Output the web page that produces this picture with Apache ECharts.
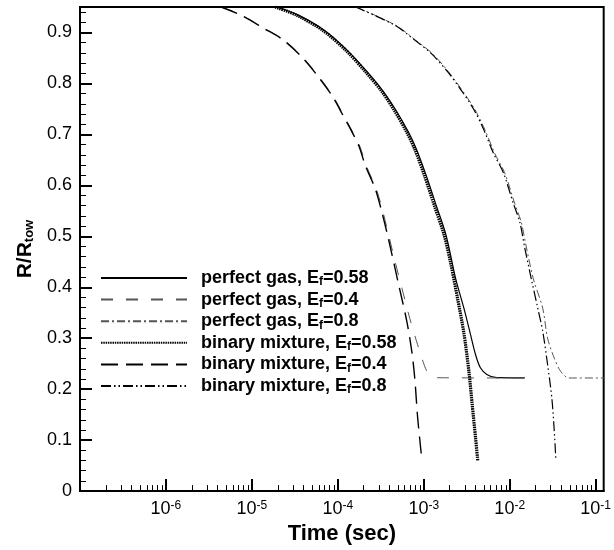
<!DOCTYPE html>
<html>
<head>
<meta charset="utf-8">
<title>R/Rtow vs time</title>
<script src="https://cdn.jsdelivr.net/npm/echarts@6/dist/echarts.min.js"></script>
<style>
  html, body { margin: 0; padding: 0; background: #fff; }
  #chart { width: 614px; height: 550px; }
</style>
</head>
<body>
<div id="chart"></div>
<script>
// [time (sec), R/Rtow]
var pgas058 = [[1.95e-5, 0.95], [3.47e-5, 0.934], [7.0e-5, 0.904], [1.29e-4, 0.865], [2.19e-4, 0.823],
  [3.39e-4, 0.784], [4.84e-4, 0.745], [6.61e-4, 0.705], [8.22e-4, 0.671], [1.07e-3, 0.619],
  [1.40e-3, 0.560], [1.82e-3, 0.502], [2.35e-3, 0.417], [2.93e-3, 0.359], [3.50e-3, 0.307],
  [4.0e-3, 0.268], [4.56e-3, 0.242], [5.42e-3, 0.229], [7.06e-3, 0.2225], [0.015, 0.222]];
var pgas04 = [[4.45e-6, 0.95], [7.55e-6, 0.934], [1.40e-5, 0.908], [2.37e-5, 0.885], [4.02e-5, 0.849],
  [6.23e-5, 0.810], [8.87e-5, 0.774], [1.156e-4, 0.739], [1.51e-4, 0.703], [1.80e-4, 0.677],
  [2.15e-4, 0.638], [2.80e-4, 0.593], [3.36e-4, 0.547], [4.0e-4, 0.495], [4.64e-4, 0.450],
  [5.57e-4, 0.398], [6.87e-4, 0.339], [8.49e-4, 0.287], [1.02e-3, 0.246], [1.16e-3, 0.228],
  [1.44e-3, 0.2225], [0.015, 0.222]];
var pgas08 = [[1.64e-4, 0.95], [4.73e-4, 0.914], [8.03e-4, 0.885], [1.25e-3, 0.859], [1.94e-3, 0.823],
  [2.76e-3, 0.788], [3.93e-3, 0.749], [5.12e-3, 0.710], [6.68e-3, 0.663], [8.72e-3, 0.625],
  [1.14e-2, 0.565], [1.36e-2, 0.528], [1.56e-2, 0.479], [1.88e-2, 0.417], [2.42e-2, 0.359],
  [2.76e-2, 0.300], [3.30e-2, 0.261], [3.92e-2, 0.235], [4.90e-2, 0.222], [0.2, 0.222]];
var binary058 = [[1.87e-5, 0.95], [3.31e-5, 0.934], [6.70e-5, 0.904], [1.24e-4, 0.865], [2.10e-4, 0.823],
  [3.26e-4, 0.784], [4.63e-4, 0.745], [6.31e-4, 0.705], [7.85e-4, 0.671], [1.02e-3, 0.619],
  [1.33e-3, 0.560], [1.73e-3, 0.502], [2.07e-3, 0.445], [2.46e-3, 0.380], [2.93e-3, 0.310],
  [3.35e-3, 0.235], [3.66e-3, 0.170], [4.00e-3, 0.105], [4.25e-3, 0.060]];
var binary04 = [[4.38e-6, 0.95], [7.43e-6, 0.934], [1.38e-5, 0.908], [2.33e-5, 0.885], [3.95e-5, 0.849],
  [6.12e-5, 0.810], [8.71e-5, 0.774], [1.135e-4, 0.739], [1.48e-4, 0.703], [1.76e-4, 0.677],
  [2.10e-4, 0.638], [2.73e-4, 0.593], [3.26e-4, 0.547], [3.88e-4, 0.495], [5.01e-4, 0.411],
  [6.35e-4, 0.333], [7.24e-4, 0.275], [7.85e-4, 0.222], [8.49e-4, 0.144], [9.44e-4, 0.066]];
var binary08 = [[1.61e-4, 0.95], [4.63e-4, 0.914], [7.85e-4, 0.885], [1.22e-3, 0.859], [1.89e-3, 0.823],
  [2.69e-3, 0.788], [3.82e-3, 0.749], [4.97e-3, 0.710], [6.47e-3, 0.663], [8.43e-3, 0.625],
  [1.10e-2, 0.565], [1.31e-2, 0.528], [1.49e-2, 0.479], [1.78e-2, 0.417], [2.12e-2, 0.359],
  [2.42e-2, 0.314], [2.76e-2, 0.248], [3.09e-2, 0.183], [3.30e-2, 0.118], [3.44e-2, 0.063]];

var seriesNames = ['perfect gas, Ef=0.58', 'perfect gas, Ef=0.4', 'perfect gas, Ef=0.8',
  'binary mixture, Ef=0.58', 'binary mixture, Ef=0.4', 'binary mixture, Ef=0.8'];

var yTicks = [0, 0.1, 0.2, 0.3, 0.4, 0.5, 0.6, 0.7, 0.8, 0.9];
var xTicks = [1e-6, 1e-5, 1e-4, 1e-3, 1e-2, 1e-1];
var xMin = 1e-7, xMax = 0.124;
var yMin = 0, yMax = 0.95;

// minor ticks: 2..9 in each decade, every 0.02 on y
var xMinor = [];
for (var d = -7; d <= -2; d++) {
  for (var k = 2; k <= 9; k++) xMinor.push(k * Math.pow(10, d));
}
var yMinor = [];
for (var i = 1; i <= 47; i++) {
  if (i % 5 !== 0) yMinor.push(+(i * 0.02).toFixed(2));
}

var FONT = 'Liberation Sans';

var chart = echarts.init(document.getElementById('chart'));

function line(name, data, width, color, dash) {
  return {
    name: name,
    type: 'line',
    data: data,
    symbol: 'none',
    smooth: 0.3,
    clip: true,
    lineStyle: { color: color, width: width, type: dash },
    itemStyle: { color: color }
  };
}

var option = {
  animation: false,
  backgroundColor: '#fff',
  grid: {
    left: 80, right: 2, top: 7, bottom: 56,
    show: true, borderColor: '#000', borderWidth: 2
  },
  legend: {
    orient: 'vertical',
    left: 100,
    top: 269,
    padding: 0,
    itemWidth: 86,
    itemHeight: 14,
    itemGap: 2.6,
    data: seriesNames,
    itemStyle: { opacity: 0 },
    formatter: function (name) {
      var p = name.split('Ef');
      return '{t|' + p[0] + 'E}{s|f}{t|' + p[1] + '}';
    },
    textStyle: {
      padding: [0, 0, 0, 9],
      rich: {
        t: { fontFamily: FONT, fontWeight: 'bold', fontSize: 18, lineHeight: 20, color: '#000' },
        s: { fontFamily: FONT, fontWeight: 'bold', fontSize: 12, lineHeight: 12, color: '#000', verticalAlign: 'bottom' }
      }
    }
  },
  xAxis: [{
    type: 'log', logBase: 10, min: xMin, max: xMax, position: 'bottom',
    name: 'Time (sec)', nameLocation: 'middle', nameGap: 22,
    nameTextStyle: { fontFamily: FONT, fontWeight: 'bold', fontSize: 22, color: '#000' },
    axisLine: { lineStyle: { color: '#000', width: 2 } },
    axisTick: { inside: true, length: 12, customValues: xTicks, lineStyle: { color: '#000', width: 2 } },
    axisLabel: {
      customValues: xTicks, margin: 9,
      formatter: function (v) { return '{b|10}{e|' + Math.round(Math.log10(v)) + '}'; },
      rich: {
        b: { fontFamily: FONT, fontSize: 18, lineHeight: 18, color: '#000' },
        e: { fontFamily: FONT, fontSize: 12, lineHeight: 12, color: '#000', verticalAlign: 'top' }
      }
    },
    splitLine: { show: false }
  }, {
    type: 'log', logBase: 10, min: xMin, max: xMax, position: 'bottom',
    axisLine: { show: false },
    axisTick: { inside: true, length: 6, customValues: xMinor, lineStyle: { color: '#000', width: 1 } },
    axisLabel: { show: false },
    splitLine: { show: false }
  }],
  yAxis: [{
    type: 'value', min: yMin, max: yMax, position: 'left',
    name: '{a|R/R}{b|tow}', nameLocation: 'middle', nameGap: 42,
    nameTextStyle: {
      rich: {
        a: { fontFamily: FONT, fontWeight: 'bold', fontSize: 21, lineHeight: 22, color: '#000' },
        b: { fontFamily: FONT, fontWeight: 'bold', fontSize: 13, lineHeight: 13, color: '#000', verticalAlign: 'bottom' }
      }
    },
    axisLine: { lineStyle: { color: '#000', width: 2 } },
    axisTick: { inside: true, length: 12, customValues: yTicks, lineStyle: { color: '#000', width: 2 } },
    axisLabel: {
      customValues: yTicks, margin: 8,
      fontFamily: FONT, fontSize: 18, color: '#000',
      formatter: function (v) { return v === 0 ? '0' : v.toFixed(1); }
    },
    splitLine: { show: false }
  }, {
    type: 'value', min: yMin, max: yMax, position: 'left',
    axisLine: { show: false },
    axisTick: { inside: true, length: 6, customValues: yMinor, lineStyle: { color: '#000', width: 1 } },
    axisLabel: { show: false },
    splitLine: { show: false }
  }],
  series: [
    line(seriesNames[0], pgas058, 1.2, '#000', 'solid'),
    line(seriesNames[1], pgas04, 1, '#555', [12, 13]),
    line(seriesNames[2], pgas08, 1, '#555', [8, 3, 2, 3]),
    line(seriesNames[3], binary058, 3.2, '#000', [1.5, 0.8]),
    line(seriesNames[4], binary04, 1.4, '#000', [17, 8]),
    line(seriesNames[5], binary08, 1.2, '#000', [10, 3, 1.5, 3, 1.5, 3])
  ]
};

chart.setOption(option);
</script>
</body>
</html>
